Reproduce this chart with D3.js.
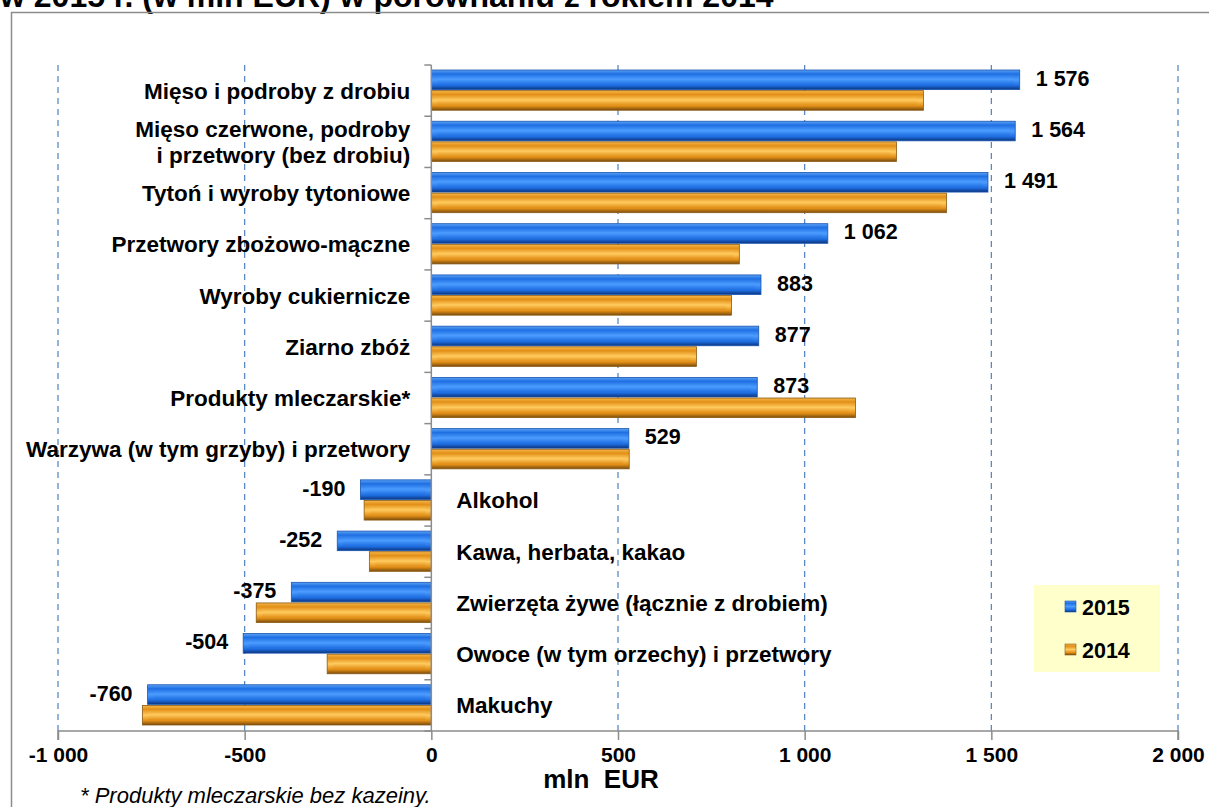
<!DOCTYPE html>
<html>
<head>
<meta charset="utf-8">
<script src="https://cdn.jsdelivr.net/npm/d3@7"></script>
<style>
  body { margin: 0; background: #fff; }
  svg { display: block; font-family: "Liberation Sans", Arial, sans-serif; }
</style>
</head>
<body>
<svg id="chart" width="1209" height="807"></svg>
<script>
var categories = [
  'Mięso i podroby z drobiu',
  'Mięso czerwone, podroby|i przetwory (bez drobiu)',
  'Tytoń i wyroby tytoniowe',
  'Przetwory zbożowo-mączne',
  'Wyroby cukiernicze',
  'Ziarno zbóż',
  'Produkty mleczarskie*',
  'Warzywa (w tym grzyby) i przetwory',
  'Alkohol',
  'Kawa, herbata, kakao',
  'Zwierzęta żywe (łącznie z drobiem)',
  'Owoce (w tym orzechy) i przetwory',
  'Makuchy'
];
var values2015 = [1576, 1564, 1491, 1062, 883, 877, 873, 529, -190, -252, -375, -504, -760];
var values2014 = [1318, 1246, 1380, 825, 804, 710, 1136, 530, -180, -166, -469, -279, -774];
var seriesNames = ['2015', '2014'];
var xTicks = [-1000, -500, 0, 500, 1000, 1500, 2000];
var gridTicks = [-1000, -500, 500, 1000, 1500, 2000];

var svg = d3.select('#chart');
var fmt = d3.format(',d');
function label(v) {
  // space as thousands separator, plain hyphen for minus
  return fmt(v).replace(/,/g, ' ').replace('\u2212', '-');
}

var x = d3.scaleLinear().domain([-1000, 2000]).range([58, 1178]);
var y = d3.scaleBand().domain(d3.range(categories.length)).range([65, 731]);
var inner = d3.scaleBand().domain(seriesNames).range([5, y.bandwidth() - 6]).paddingInner(0.05);

// gradients for the bevelled bars
var defs = svg.append('defs');
var palette = {
  '2015': { top: '#5aa2f5', mid: '#1f6fe3', light: '#4c9cff', bottom: '#0a347e', edge: '#1a55b0' },
  '2014': { top: '#f6b84a', mid: '#e28f17', light: '#ffcb5e', bottom: '#7a4c0c', edge: '#8a5a14' }
};
seriesNames.forEach(function (s) {
  var c = palette[s];
  var g = defs.append('linearGradient').attr('id', 'g' + s).attr('x1', 0).attr('y1', 0).attr('x2', 0).attr('y2', 1);
  [[0, c.top], [0.2, c.mid], [0.5, c.light], [0.78, c.mid], [1, c.bottom]].forEach(function (st) {
    g.append('stop').attr('offset', st[0]).attr('stop-color', st[1]);
  });
  var g2 = defs.append('linearGradient').attr('id', 'gi' + s).attr('x1', 0).attr('y1', 0).attr('x2', 0).attr('y2', 1);
  [[0, c.mid], [0.5, c.light], [1, c.mid]].forEach(function (st) {
    g2.append('stop').attr('offset', st[0]).attr('stop-color', st[1]);
  });
});

// title (cut at top edge, as in the source image)
svg.append('text')
  .attr('x', 0)
  .attr('y', 7)
  .attr('font-size', 32)
  .attr('font-weight', 'bold')
  .text('w 2015 r. (w mln EUR) w porównaniu z rokiem 2014');

// frame
svg.append('path')
  .attr('d', 'M11.5,807 V12.5 H1209')
  .attr('fill', 'none')
  .attr('stroke', '#8c8c8c')
  .attr('stroke-width', 1.5);

// grid
svg.append('g')
  .selectAll('line')
  .data(gridTicks)
  .join('line')
  .attr('x1', d => x(d)).attr('x2', d => x(d))
  .attr('y1', 65).attr('y2', 731)
  .attr('stroke', '#4f81bd')
  .attr('stroke-width', 1.2)
  .attr('stroke-dasharray', '6,5');

// bars
var rows = categories.map(function (c, i) {
  return { i: i, name: c, v: { '2015': values2015[i], '2014': values2014[i] } };
});
var bars = [];
rows.forEach(function (r) {
  seriesNames.forEach(function (s) {
    bars.push({ i: r.i, s: s, v: r.v[s] });
  });
});

var barG = svg.append('g')
  .selectAll('g')
  .data(bars)
  .join('g')
  .attr('transform', d => `translate(${Math.min(x(0), x(d.v))},${y(d.i) + inner(d.s)})`);

barG.append('rect')
  .attr('width', d => Math.abs(x(d.v) - x(0)))
  .attr('height', inner.bandwidth())
  .attr('fill', d => `url(#g${d.s})`)
  .attr('stroke', d => palette[d.s].edge)
  .attr('stroke-width', 0.8);

barG.append('rect')
  .attr('x', 6)
  .attr('y', 4)
  .attr('width', d => Math.max(0, Math.abs(x(d.v) - x(0)) - 12))
  .attr('height', inner.bandwidth() - 9)
  .attr('fill', d => `url(#gi${d.s})`);

// zero axis with ticks
var zero = svg.append('g').attr('stroke', '#8c8c8c').attr('stroke-width', 1.5);
zero.append('line')
  .attr('x1', x(0)).attr('x2', x(0))
  .attr('y1', 65).attr('y2', 731);
zero.selectAll('.t')
  .data(d3.range(categories.length + 1))
  .join('line')
  .attr('class', 't')
  .attr('x1', x(0) - 7).attr('x2', x(0))
  .attr('y1', d => 65 + d * y.step()).attr('y2', d => 65 + d * y.step());

// x axis
var xAxis = svg.append('g')
  .attr('transform', 'translate(0,731)')
  .call(d3.axisBottom(x).tickValues(xTicks).tickSize(9).tickPadding(7).tickFormat(label));
xAxis.select('.domain').attr('stroke', '#8c8c8c').attr('stroke-width', 1.5).attr('d', `M${x(-1000)},9V0H${x(2000)}V9`);
xAxis.selectAll('.tick line').attr('stroke', '#8c8c8c').attr('stroke-width', 1.5);
xAxis.selectAll('.tick text')
  .attr('font-size', 21)
  .attr('font-weight', 'bold')
  .attr('fill', '#000')
  .attr('font-family', '"Liberation Sans", Arial, sans-serif');

svg.append('text')
  .attr('x', 601)
  .attr('y', 788)
  .attr('text-anchor', 'middle')
  .attr('font-size', 26)
  .attr('font-weight', 'bold')
  .attr('xml:space', 'preserve')
  .text('mln  EUR');

svg.append('text')
  .attr('x', 80)
  .attr('y', 803)
  .attr('font-size', 22)
  .attr('font-style', 'italic')
  .text('* Produkty mleczarskie bez kazeiny.');

// category labels
var catG = svg.append('g')
  .selectAll('text')
  .data(rows)
  .join('text')
  .attr('font-size', 22.5)
  .attr('font-weight', 'bold')
  .attr('text-anchor', d => d.v['2015'] >= 0 ? 'end' : 'start')
  .attr('x', d => d.v['2015'] >= 0 ? x(0) - 21 : x(0) + 25)
  .attr('y', d => y(d.i) + y.bandwidth() / 2);
catG.each(function (d) {
  var lines = d.name.split('|');
  var t = d3.select(this);
  lines.forEach(function (ln, k) {
    t.append('tspan')
      .attr('x', t.attr('x'))
      .attr('dy', k === 0 ? (8 - (lines.length - 1) * 13) : 26)
      .text(ln);
  });
});

// value labels (2015)
svg.append('g')
  .selectAll('text')
  .data(rows)
  .join('text')
  .attr('font-size', 21.5)
  .attr('font-weight', 'bold')
  .attr('text-anchor', d => d.v['2015'] >= 0 ? 'start' : 'end')
  .attr('x', d => d.v['2015'] >= 0 ? x(d.v['2015']) + 16 : x(d.v['2015']) - 15)
  .attr('y', d => y(d.i) + inner('2015') + inner.bandwidth() / 2 + 6)
  .text(d => label(d.v['2015']));

// legend
var leg = svg.append('g').attr('transform', 'translate(1034,585)');
leg.append('rect').attr('width', 126).attr('height', 87).attr('fill', '#ffffcc');
var li = leg.selectAll('g')
  .data(seriesNames)
  .join('g')
  .attr('transform', (d, k) => `translate(31,${22 + k * 43})`);
li.append('rect')
  .attr('width', 11).attr('height', 11).attr('y', -6)
  .attr('fill', d => `url(#g${d})`)
  .attr('stroke', d => palette[d].edge)
  .attr('stroke-width', 0.6);
li.append('text')
  .attr('x', 17)
  .attr('y', 8)
  .attr('font-size', 21.5)
  .attr('font-weight', 'bold')
  .text(d => d);
</script>
</body>
</html>
